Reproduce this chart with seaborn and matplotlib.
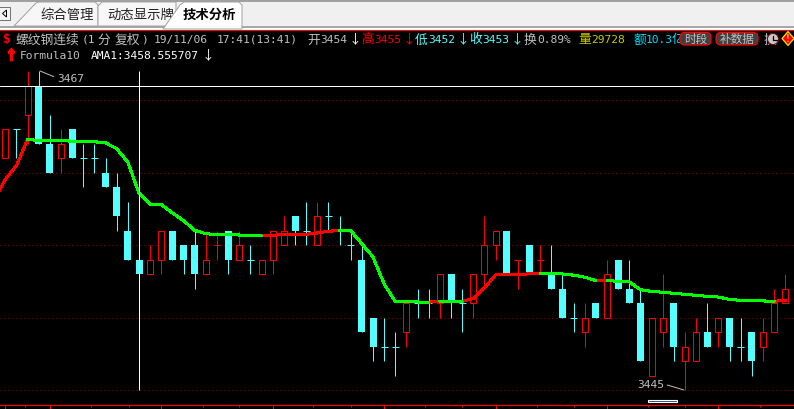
import numpy as np
import pandas as pd
import matplotlib
matplotlib.use('Agg')
import matplotlib.pyplot as plt
import matplotlib.patheffects as pe
from matplotlib.patches import Polygon, Rectangle, FancyBboxPatch, Circle
import seaborn as sns

# candles, one minute each
opens = [3461, 3463, 3464, 3466, 3462, 3461, 3463, 3461, 3461, 3460, 3459, 3456, 3454, 3453, 3454, 3456, 3455, 3455,
         3453, 3455, 3456, 3454, 3454, 3453, 3454, 3455, 3457, 3456, 3455, 3457, 3456, 3455, 3454, 3450, 3448, 3448,
         3449, 3451, 3451, 3451, 3453, 3451, 3451, 3453, 3455, 3456, 3454, 3455, 3454, 3453, 3452, 3450, 3449, 3451,
         3450, 3454, 3452, 3451, 3446, 3449, 3451, 3447, 3447, 3449, 3449, 3450, 3448, 3449, 3448, 3449, 3451]
highs = [3463, 3463, 3467, 3467, 3464, 3463, 3463, 3462, 3462, 3461, 3460, 3458, 3455, 3455, 3456, 3456, 3455, 3456,
         3456, 3456, 3456, 3456, 3455, 3454, 3456, 3457, 3457, 3458, 3458, 3458, 3457, 3456, 3455, 3450, 3450, 3449,
         3451, 3452, 3452, 3453, 3453, 3452, 3453, 3457, 3456, 3456, 3454, 3455, 3455, 3455, 3453, 3451, 3451, 3451,
         3454, 3454, 3454, 3452, 3450, 3453, 3451, 3449, 3450, 3451, 3450, 3450, 3450, 3449, 3450, 3452, 3453]
lows = [3461, 3461, 3462, 3462, 3460, 3460, 3461, 3459, 3460, 3459, 3456, 3454, 3452, 3453, 3453, 3454, 3453, 3452,
        3453, 3454, 3453, 3454, 3453, 3453, 3453, 3455, 3455, 3455, 3455, 3456, 3455, 3454, 3449, 3447, 3447, 3446,
        3448, 3450, 3450, 3450, 3450, 3449, 3450, 3452, 3454, 3453, 3452, 3453, 3453, 3452, 3450, 3449, 3448, 3450,
        3450, 3452, 3451, 3447, 3446, 3448, 3447, 3445, 3447, 3448, 3448, 3447, 3447, 3446, 3447, 3449, 3451]
closes = [3463, 3463, 3466, 3462, 3460, 3462, 3461, 3461, 3461, 3459, 3457, 3454, 3453, 3454, 3456, 3454, 3454, 3453,
          3454, 3455, 3454, 3455, 3454, 3454, 3456, 3456, 3456, 3456, 3457, 3457, 3456, 3455, 3449, 3448, 3448, 3448,
          3451, 3451, 3451, 3453, 3451, 3451, 3453, 3455, 3456, 3453, 3454, 3453, 3454, 3452, 3450, 3450, 3450, 3450,
          3453, 3452, 3451, 3447, 3450, 3450, 3448, 3448, 3449, 3448, 3450, 3448, 3448, 3447, 3449, 3451, 3452]
red_doji = [19, 46, 48]

# AMA1 line, first value is the minute before the screen starts
ama = [3458.10, 3459.52, 3460.48, 3462.28, 3462.21, 3462.19, 3462.18, 3462.17, 3462.14, 3462.12, 3462.05, 3461.64,
       3460.71, 3458.56, 3457.79, 3457.78, 3457.21, 3456.68, 3456.01, 3455.78, 3455.71, 3455.70, 3455.69, 3455.64,
       3455.63, 3455.67, 3455.72, 3455.73, 3455.74, 3455.83, 3455.95, 3456.00, 3455.99, 3455.09, 3454.17, 3452.31,
       3451.09, 3451.08, 3451.07, 3451.06, 3451.13, 3451.12, 3451.11, 3451.32, 3452.04, 3452.94, 3452.95, 3452.96,
       3453.01, 3453.03, 3453.02, 3453.00, 3452.92, 3452.78, 3452.55, 3452.57, 3452.48, 3452.45, 3451.92, 3451.80,
       3451.74, 3451.67, 3451.60, 3451.53, 3451.46, 3451.41, 3451.25, 3451.18, 3451.15, 3451.14, 3451.13, 3451.16]

grid_prices = [3465, 3460, 3455, 3450, 3445]
major_ticks = [0, 4, 14, 24, 34, 44, 54, 64]
minor_ticks = [1.8, 7.7, 11.1, 17.7, 21, 27.6, 31, 37.7, 41, 47.7, 51, 57.7, 61, 67.7]

RED = '#ff0000'
CYAN = '#54ffff'
GREEN = '#00ff00'
GREY = '#c0c0c0'
YELLOW = '#c8c800'
SKY = '#00e0ff'
MONO = 'DejaVu Sans Mono'
CJK = 'Noto Sans CJK SC'

# exactly one pixel at 100 dpi
THIN = 0.72

sns.set_style('dark', {'axes.facecolor': 'black', 'figure.facecolor': 'black'})
plt.rcParams['font.family'] = [MONO, CJK]

fig = plt.figure(figsize=(7.94, 4.10), dpi=100)
ax = fig.add_axes([0, 4.5 / 410, 1, 373.5 / 410])

o = np.array(opens)
h = np.array(highs)
l = np.array(lows)
c = np.array(closes)
idx = np.arange(len(o))
up = c > o
down = c < o
doji = c == o
wick_red = up | np.isin(idx, red_doji)

for p in grid_prices:
    ax.axhline(p, color='#a00000', lw=0.72, ls=(0, (1, 3)), snap=True, zorder=1)

# wicks
ax.vlines(idx[wick_red], l[wick_red], h[wick_red], color=RED, lw=THIN, snap=True, zorder=2)
ax.vlines(idx[~wick_red], l[~wick_red], h[~wick_red], color=CYAN, lw=THIN, snap=True, zorder=2)

# bodies: red ones are hollow, cyan ones filled
ax.bar(idx[down], (o - c)[down], bottom=c[down], width=0.63, color=CYAN, lw=0, snap=True, zorder=3)
ax.bar(idx[up], (c - o)[up], bottom=o[up], width=0.54, facecolor='black', edgecolor=RED, lw=THIN, snap=True, zorder=3)

# open == close
is_red = np.isin(idx, red_doji)
ax.hlines(c[doji & is_red], idx[doji & is_red] - 0.31, idx[doji & is_red] + 0.31, color=RED, lw=THIN, snap=True, zorder=3)
ax.hlines(c[doji & ~is_red], idx[doji & ~is_red] - 0.31, idx[doji & ~is_red] + 0.31, color=CYAN, lw=THIN, snap=True, zorder=3)

# the line is red while rising, green otherwise, so one small table per segment
rows = []
for k in range(1, len(ama)):
    d = 'up' if ama[k] > ama[k - 1] else 'down'
    rows.append({'x': k - 2, 'y': ama[k - 1], 'seg': k, 'dir': d})
    rows.append({'x': k - 1, 'y': ama[k], 'seg': k, 'dir': d})
ma_df = pd.DataFrame(rows)
sns.lineplot(data=ma_df, x='x', y='y', hue='dir', units='seg', estimator=None, sort=False, ax=ax,
             palette={'up': RED, 'down': GREEN}, legend=False, lw=1.45, antialiased=False, zorder=4)

# crosshair on the 13:41 candle
ax.axhline(3466, color='white', lw=THIN, snap=True, zorder=5)
ax.vlines(12, 3445, 3467, color='white', lw=THIN, snap=True, zorder=5)

# high / low marks
ax.annotate('3467', xy=(3.12, 3467), xytext=(17, -7), textcoords='offset pixels', color=GREY, fontsize=8.1,
            ha='left', va='center', arrowprops=dict(arrowstyle='-', color=GREY, lw=0.7, shrinkA=0, shrinkB=0, relpos=(0, 0.5)),
            zorder=6)
ax.annotate('3445', xy=(60.9, 3445), xytext=(-20, 6), textcoords='offset pixels', color=GREY, fontsize=8.1,
            ha='right', va='center', arrowprops=dict(arrowstyle='-', color=GREY, lw=0.7, shrinkA=0, shrinkB=0, relpos=(1, 0.5)),
            zorder=6)

ax.set_xlim(-0.476, 70.78)
ax.set_ylim(3444.0, 3469.76)
ax.set_xlabel('')
ax.set_ylabel('')
ax.set_yticks([])
ax.set_xticks(major_ticks)
ax.set_xticks(minor_ticks, minor=True)
ax.set_xticklabels([])
ax.tick_params(axis='x', which='major', length=3.3, width=0.75, color=RED, bottom=True, labelbottom=False)
ax.tick_params(axis='x', which='minor', length=1.1, width=0.75, color=RED, bottom=True)
ax.grid(False)
for side in ['top', 'left', 'right']:
    ax.spines[side].set_visible(False)
ax.spines['bottom'].set_color(RED)
ax.spines['bottom'].set_linewidth(0.85)

# everything around the chart is drawn in screen pixels
ui = fig.add_axes([0, 0, 1, 1])
ui.set_xlim(0, 794)
ui.set_ylim(410, 0)
ui.axis('off')
ui.patch.set_visible(False)

ui.add_patch(Rectangle((0, 0), 794, 30.5, fc='#f0f0f0', ec='none'))
ui.add_patch(Rectangle((0, 0), 794, 2.5, fc='#a0a0a0', ec='none'))
ui.add_patch(Rectangle((0, 27), 794, 1.6, fc='#a8a8a8', ec='none'))
ui.add_patch(Rectangle((0, 28.6), 794, 1.6, fc='white', ec='none'))
ui.add_patch(Rectangle((0, 31), 794, 1, fc=RED, ec='none'))
ui.add_patch(Rectangle((-1, 8), 10.5, 13, fc='#f4f4f4', ec='#707070', lw=0.7))
ui.add_patch(Polygon([(6.5, 11), (2.5, 14.5), (6.5, 18)], closed=True, fc='none', ec='black', lw=0.7))
ui.add_patch(Polygon([(14, 27), (36, 4), (39, 3), (95, 3), (98, 6), (98, 27)], closed=True, fc='#f7f7f7', ec='#a0a0a0', lw=0.7))
ui.add_patch(Polygon([(98, 27), (98, 7), (102, 3), (176, 3), (176, 27)], closed=True, fc='#f7f7f7', ec='#a0a0a0', lw=0.7))
ui.add_patch(Polygon([(163, 30), (180, 6), (184, 3), (239, 3), (242, 6), (242, 27.5), (242, 30)], closed=True, fc='white', ec='#a0a0a0', lw=0.7, zorder=3))

ui.text(40, 15, '综合管理', family=CJK, fontsize=9.6, color='#202020', va='center', weight='medium')
ui.text(107, 15, '动态显示牌', family=CJK, fontsize=9.6, color='#202020', va='center', weight='medium', zorder=2)
ui.text(183, 15, '技术分析', family=CJK, fontsize=9.6, color='black', va='center', weight='bold', zorder=4)


def put(x, y, s, color=GREY, big=False, **kw):
    if big:
        return ui.text(x, y, s, family=CJK, fontsize=9.2, color=color, va='center', ha='left', **kw)
    return ui.text(x, y, s, family=[MONO, CJK], fontsize=8.1, color=color, va='center', ha='left', **kw)


# first header row
ui.text(3.5, 40, '$', family=MONO, fontsize=9.5, color=RED, weight='bold', va='center')
put(16, 40, '螺纹钢连续', big=True)
put(82, 40, '(1')
put(97, 40, '分', big=True)
put(115, 40, '复权', big=True)
put(141, 40, ')')
put(154, 40, '19/11/06')
put(217, 40, '17:41(13:41)')
put(307.5, 40, '开', big=True)
put(320.5, 40, '3454')
put(349, 40, '↓', 'white', big=True)
put(361, 40, '高', RED, big=True)
put(374, 40, '3455', RED)
put(402.5, 40, '↓', RED, big=True)
put(415, 40, '低', CYAN, big=True)
put(428, 40, '3452', CYAN)
put(456.5, 40, '↓', CYAN, big=True)
put(469, 40, '收', CYAN, big=True)
put(482, 40, '3453', CYAN)
put(510.5, 40, '↓', CYAN, big=True)
put(523.5, 40, '换', big=True)
put(537, 40, '0.89%')
put(578, 40, '量', YELLOW, big=True)
put(591.5, 40, '29728', YELLOW)
put(633, 40, '额', SKY, big=True)
put(645.5, 40, '10.3', SKY)
put(671.5, 40, '亿', SKY, big=True)

# second header row
arrow = put(5, 57, '↑', RED, big=True, weight='bold')
arrow.set_path_effects([pe.withStroke(linewidth=1.4, foreground=RED)])
put(20, 56, 'Formula10')
put(91, 56, 'AMA1:3458.555707', 'white')
put(201.5, 56, '↓', 'white', big=True)

# buttons and icons at the top right
ui.add_patch(FancyBboxPatch((680, 33.5), 31, 12.5, boxstyle='round,pad=0,rounding_size=5', fc='#404040', ec=RED, lw=0.9, zorder=5))
ui.add_patch(FancyBboxPatch((716, 33.5), 42, 12.5, boxstyle='round,pad=0,rounding_size=5', fc='#404040', ec=RED, lw=0.9, zorder=5))
ui.text(695.5, 39.5, '时段', family=CJK, fontsize=8.4, color=GREY, va='center', ha='center', zorder=6)
ui.text(737, 39.5, '补数据', family=CJK, fontsize=8.4, color=GREY, va='center', ha='center', zorder=6)
put(764, 40, '换', big=True)
ui.add_patch(Circle((773, 40), 5.5, fc='#c8c8c8', ec='#800000', lw=0.7, zorder=5))
ui.plot([773, 773, 776.5], [36.5, 40.5, 40.5], color='black', lw=0.9, zorder=6)
ui.add_patch(Polygon([(788, 32.5), (794, 39.5), (788, 46.5), (782, 39.5)], closed=True, fc=RED, ec='#ffe000', lw=0.9, zorder=5))
ui.text(788, 39.5, '!', color='#ffe000', fontsize=7, weight='bold', va='center', ha='center', zorder=6)

# scroll marker under the chart
ui.add_patch(Rectangle((647.5, 401), 29, 2, fc='#26417a', ec='white', lw=0.8))

fig.savefig('out.png', dpi=100, facecolor='black')
